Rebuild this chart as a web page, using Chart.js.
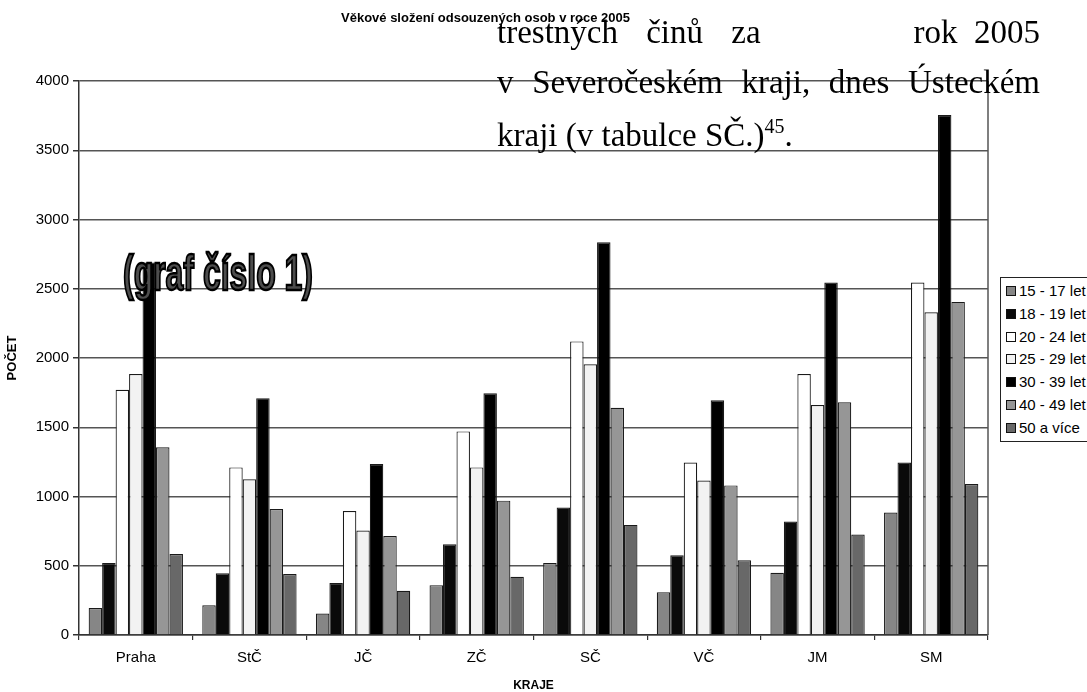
<!DOCTYPE html>
<html><head><meta charset="utf-8">
<script src="https://cdn.jsdelivr.net/npm/chart.js@4.4.0/dist/chart.umd.min.js"></script>
<style>
html,body{margin:0;padding:0;width:1087px;height:692px;overflow:hidden;background:#fff;}
#wrap{position:relative;width:1087px;height:692px;overflow:hidden;}
#c{position:absolute;left:0;top:0;}
.ov{position:absolute;white-space:nowrap;}
#title{left:341px;top:10px;font:bold 13px "Liberation Sans",Arial,sans-serif;color:#000;}
#legend{position:absolute;left:1000px;top:277px;width:120px;height:165px;border:1px solid #222;box-sizing:border-box;background:#fff;font:15px "Liberation Sans",Arial,sans-serif;color:#000;}
.li{position:absolute;left:5px;height:18px;line-height:18px;white-space:nowrap;}
.sq{display:inline-block;width:8px;height:8px;border:1px solid #111;margin-right:3px;vertical-align:0px;}
.tl{position:absolute;left:497px;width:543px;font:33px "Liberation Serif","Times New Roman",serif;color:#000;line-height:30px;white-space:nowrap;}
.just{text-align:justify;text-align-last:justify;white-space:normal;}
#wa{left:123px;top:248px;font:bold 50px "Liberation Sans Narrow","Liberation Sans",Arial,sans-serif;line-height:1;color:#4d4d4d;-webkit-text-stroke:2.5px #000;transform-origin:0 0;}
</style>
</head><body>
<div id="wrap">
<canvas id="c" width="1087" height="692"></canvas>
<div class="ov" id="title">Věkové složení odsouzených osob v roce 2005</div>
<div class="tl" style="top:17px"><span style="word-spacing:20px">trestných činů za</span><span style="position:absolute;right:0;top:0">rok&nbsp; 2005</span></div>
<div class="tl just" style="top:67px">v Severočeském kraji, dnes Ústeckém</div>
<div class="tl" style="top:120px">kraji (v tabulce SČ.)<sup style="font-size:20px;vertical-align:13px;line-height:0">45</sup>.</div>
<div id="legend"></div>
<div class="ov" id="wa">(graf číslo 1)</div>
</div>
<script>
const categories = ['Praha', 'StČ', 'JČ', 'ZČ', 'SČ', 'VČ', 'JM', 'SM'];
const seriesLabels = ['15 - 17 let', '18 - 19 let', '20 - 24 let', '25 - 29 let', '30 - 39 let', '40 - 49 let', '50 a více'];
const v15_17 = [195, 215, 155, 360, 520, 308, 450, 885];
const v18_19 = [520, 445, 375, 655, 920, 575, 820, 1245];
const v20_24 = [1770, 1210, 895, 1470, 2120, 1245, 1885, 2545];
const v25_29 = [1885, 1125, 755, 1210, 1955, 1115, 1660, 2330];
const v30_39 = [2690, 1710, 1235, 1745, 2835, 1695, 2545, 3755];
const v40_49 = [1355, 910, 715, 970, 1640, 1080, 1680, 2405];
const v50 = [585, 440, 320, 420, 795, 540, 725, 1090];
const yMin = 0, yMax = 4000, yStep = 500;

const seriesValues = [v15_17, v18_19, v20_24, v25_29, v30_39, v40_49, v50];
const seriesColors = ['#868686', '#0a0a0a', '#ffffff', '#f2f2f2', '#000000', '#969696', '#686868'];

const datasets = seriesValues.map((vals, i) => ({
  label: seriesLabels[i],
  data: vals,
  backgroundColor: seriesColors[i],
  borderColor: '#1a1a1a',
  borderWidth: 1.2,
  categoryPercentage: 0.83,
  barPercentage: 1.0
}));

const rightBorder = {
  id: 'rightBorder',
  afterDraw(chart) {
    const {ctx, chartArea: a} = chart;
    ctx.save();
    ctx.strokeStyle = '#555';
    ctx.lineWidth = 1.5;
    ctx.beginPath();
    ctx.moveTo(a.right, a.top);
    ctx.lineTo(a.right, a.bottom);
    ctx.stroke();
    ctx.restore();
  }
};

const fam = '"Liberation Sans", Arial, sans-serif';
const tickFont = {family: fam, size: 15};
new Chart(document.getElementById('c'), {
  type: 'bar',
  data: {labels: categories, datasets},
  options: {
    responsive: false,
    animation: false,
    devicePixelRatio: 1,
    layout: {padding: {top: 81, right: 99, left: 0, bottom: 0}},
    plugins: {legend: {display: false}, title: {display: false}, tooltip: {enabled: false}},
    scales: {
      x: {
        grid: {offset: true, drawOnChartArea: false, drawTicks: true, tickLength: 5, color: '#333', lineWidth: 1.2},
        border: {display: true, color: '#333', width: 1.5},
        ticks: {font: tickFont, color: '#000', padding: 9, maxRotation: 0},
        title: {display: true, text: 'KRAJE', font: {family: fam, size: 12, weight: 'bold'}, color: '#000', padding: {top: 0, bottom: -1}},
        afterFit(s) { s.height = 57; }
      },
      y: {
        min: yMin, max: yMax,
        grid: {color: '#555', lineWidth: 1.5, drawTicks: true, tickLength: 6, tickColor: '#333'},
        border: {display: true, color: '#333', width: 1.5},
        ticks: {stepSize: yStep, font: tickFont, color: '#000', padding: 4, callback: v => String(v)},
        title: {display: true, text: 'POČET', font: {family: fam, size: 13, weight: 'bold'}, color: '#000', padding: {top: 5, bottom: 0}},
        afterFit(s) { s.width = 79; }
      }
    }
  },
  plugins: [rightBorder]
});

// legend built from the series arrays
const leg = document.getElementById('legend');
seriesLabels.forEach((lab, i) => {
  const d = document.createElement('div');
  d.className = 'li';
  d.style.top = (4 + i * 22.8) + 'px';
  d.innerHTML = '<span class="sq" style="background:' + seriesColors[i] + '"></span>' + lab;
  leg.appendChild(d);
});

// condense the word-art label to its width
const wa = document.getElementById('wa');
const w = wa.getBoundingClientRect().width;
wa.style.transform = 'scaleX(' + (190 / w) + ')';
</script>
</body></html>
